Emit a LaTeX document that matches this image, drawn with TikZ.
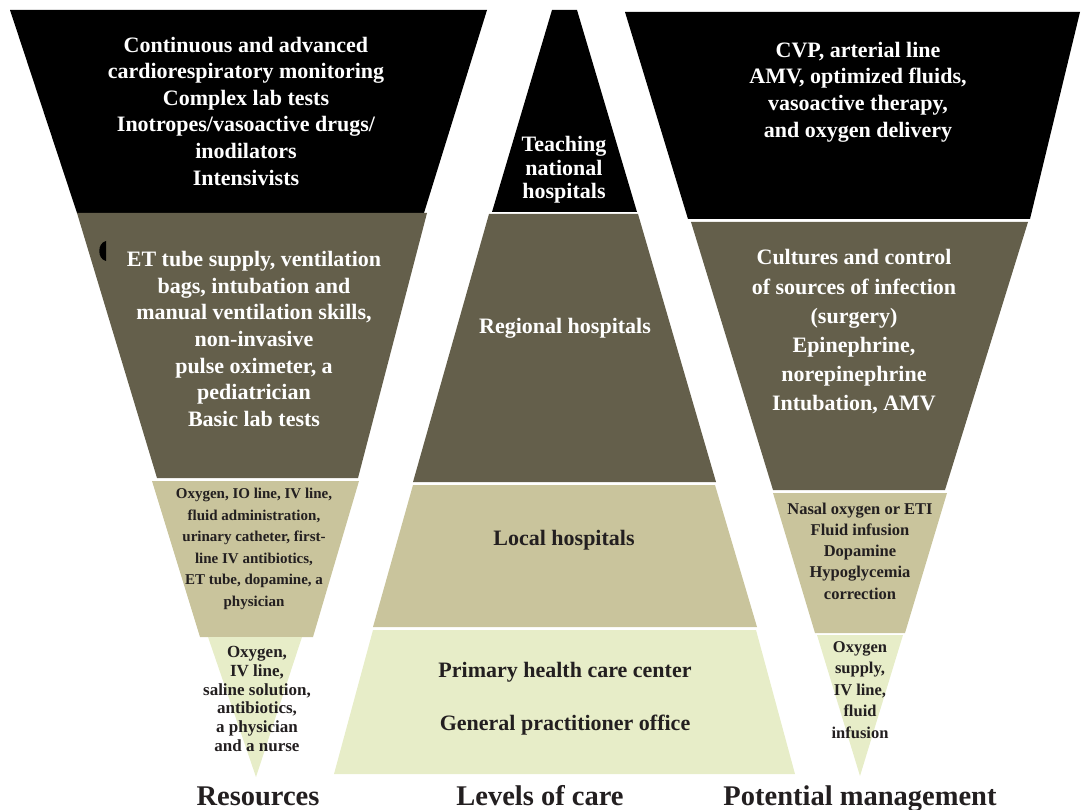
\documentclass[tikz,border=0pt]{standalone}
\usepackage{fontspec}
\setmainfont{Liberation Serif}
\definecolor{bandtop}{HTML}{000000}
\definecolor{bandmid}{HTML}{645F4B}
\definecolor{bandlow}{HTML}{C9C49C}
\definecolor{bandbase}{HTML}{E7EDC8}
\definecolor{inkdark}{HTML}{231F20}

\begin{document}
\begin{tikzpicture}[
		x=1pt, y=-1pt,
		lighttxt/.style={text=white, align=center, font=\bfseries\fontsize{22}{26.6}\selectfont},
		darktxt/.style={text=inkdark, align=center, font=\bfseries\fontsize{22}{24}\selectfont},
		smalltxt/.style={text=inkdark, align=center, font=\bfseries\fontsize{16.5}{21.5}\selectfont},
		title/.style={text=inkdark, anchor=base, font=\bfseries\fontsize{28.5}{30}\selectfont}
	]
  \useasboundingbox (0,0) rectangle (1081,810);
  % resources
  \fill[bandtop] (10,10) -- (487,10) -- (424,213) -- (77,213) -- cycle;
  \fill[bandmid] (77,213) -- (427,213) -- (358,478) -- (157,478) -- cycle;
  \fill[bandlow] (152,481) -- (359,481) -- (313,637) -- (200,637) -- cycle;
  \fill[bandbase] (208,637) -- (302,637) -- (256,777) -- cycle;
  \fill[bandtop] (106,241) .. controls (97,243) and (97,259) .. (106,261) -- cycle;
  % levels of care
  \fill[bandtop] (552,10) -- (577,10) -- (637,212) -- (492,212) -- cycle;
  \fill[bandmid] (489,214) -- (638,214) -- (716,482) -- (413,482) -- cycle;
  \fill[bandlow] (413,485) -- (715,485) -- (757,627) -- (373,627) -- cycle;
  \fill[bandbase] (373,630) -- (756,630) -- (795,774) -- (334,774) -- cycle;
  % potential management
  \fill[bandtop] (625,12) -- (1080,12) -- (1030,219) -- (688,219) -- cycle;
  \fill[bandmid] (691,222) -- (1028,222) -- (945,490) -- (773,490) -- cycle;
  \fill[bandlow] (773,493) -- (947,493) -- (905,633) -- (815,633) -- cycle;
  \fill[bandbase] (817,635) -- (903,635) -- (860,776) -- cycle;

  \node (res_top) [lighttxt] at (246,111) {Continuous and advanced\\cardiorespiratory monitoring\\Complex lab tests\\Inotropes/vasoactive drugs/\\inodilators\\Intensivists};
  \node (res_mid) [lighttxt] at (254,339) {ET tube supply, ventilation\\bags, intubation and\\manual ventilation skills,\\non-invasive\\pulse oximeter, a\\pediatrician\\Basic lab tests};
  \node (res_low) [smalltxt, font=\bfseries\fontsize{15}{21.6}\selectfont] at (254,549) {Oxygen, IO line, IV line,\\fluid administration,\\urinary catheter, first-\\line IV antibiotics,\\ET tube, dopamine, a\\physician};
  \node (res_base) [smalltxt, font=\bfseries\fontsize{17}{18.8}\selectfont] at (257,699) {Oxygen,\\IV line,\\saline solution,\\antibiotics,\\a physician\\and a nurse};

  \node (lvl_top) [lighttxt, font=\bfseries\fontsize{22}{23.5}\selectfont] at (564,170) {Teaching\\national\\hospitals};
  \node (lvl_mid) [lighttxt] at (565,328) {Regional hospitals};
  \node (lvl_low) [darktxt] at (564,540) {Local hospitals};
  \node (lvl_base1) [darktxt] at (565,672) {Primary health care center};
  \node (lvl_base2) [darktxt] at (565,725) {General practitioner office};

  \node (mgt_top) [lighttxt] at (858,92) {CVP, arterial line\\AMV, optimized fluids,\\vasoactive therapy,\\and oxygen delivery};
  \node (mgt_mid) [lighttxt, font=\bfseries\fontsize{22}{29.2}\selectfont] at (854,332) {Cultures and control\\of sources of infection\\(surgery)\\Epinephrine,\\norepinephrine\\Intubation, AMV};
  \node (mgt_low) [smalltxt, font=\bfseries\fontsize{16.5}{21.2}\selectfont] at (860,551) {Nasal oxygen or ETI\\Fluid infusion\\Dopamine\\Hypoglycemia\\correction};
  \node (mgt_base) [smalltxt] at (860,690) {Oxygen\\supply,\\IV line,\\fluid\\infusion};

  \node (t_res) [title] at (258,805) {Resources};
  \node (t_lvl) [title] at (540,805) {Levels of care};
  \node (t_mgt) [title] at (860,805) {Potential management};
\end{tikzpicture}
\end{document}
